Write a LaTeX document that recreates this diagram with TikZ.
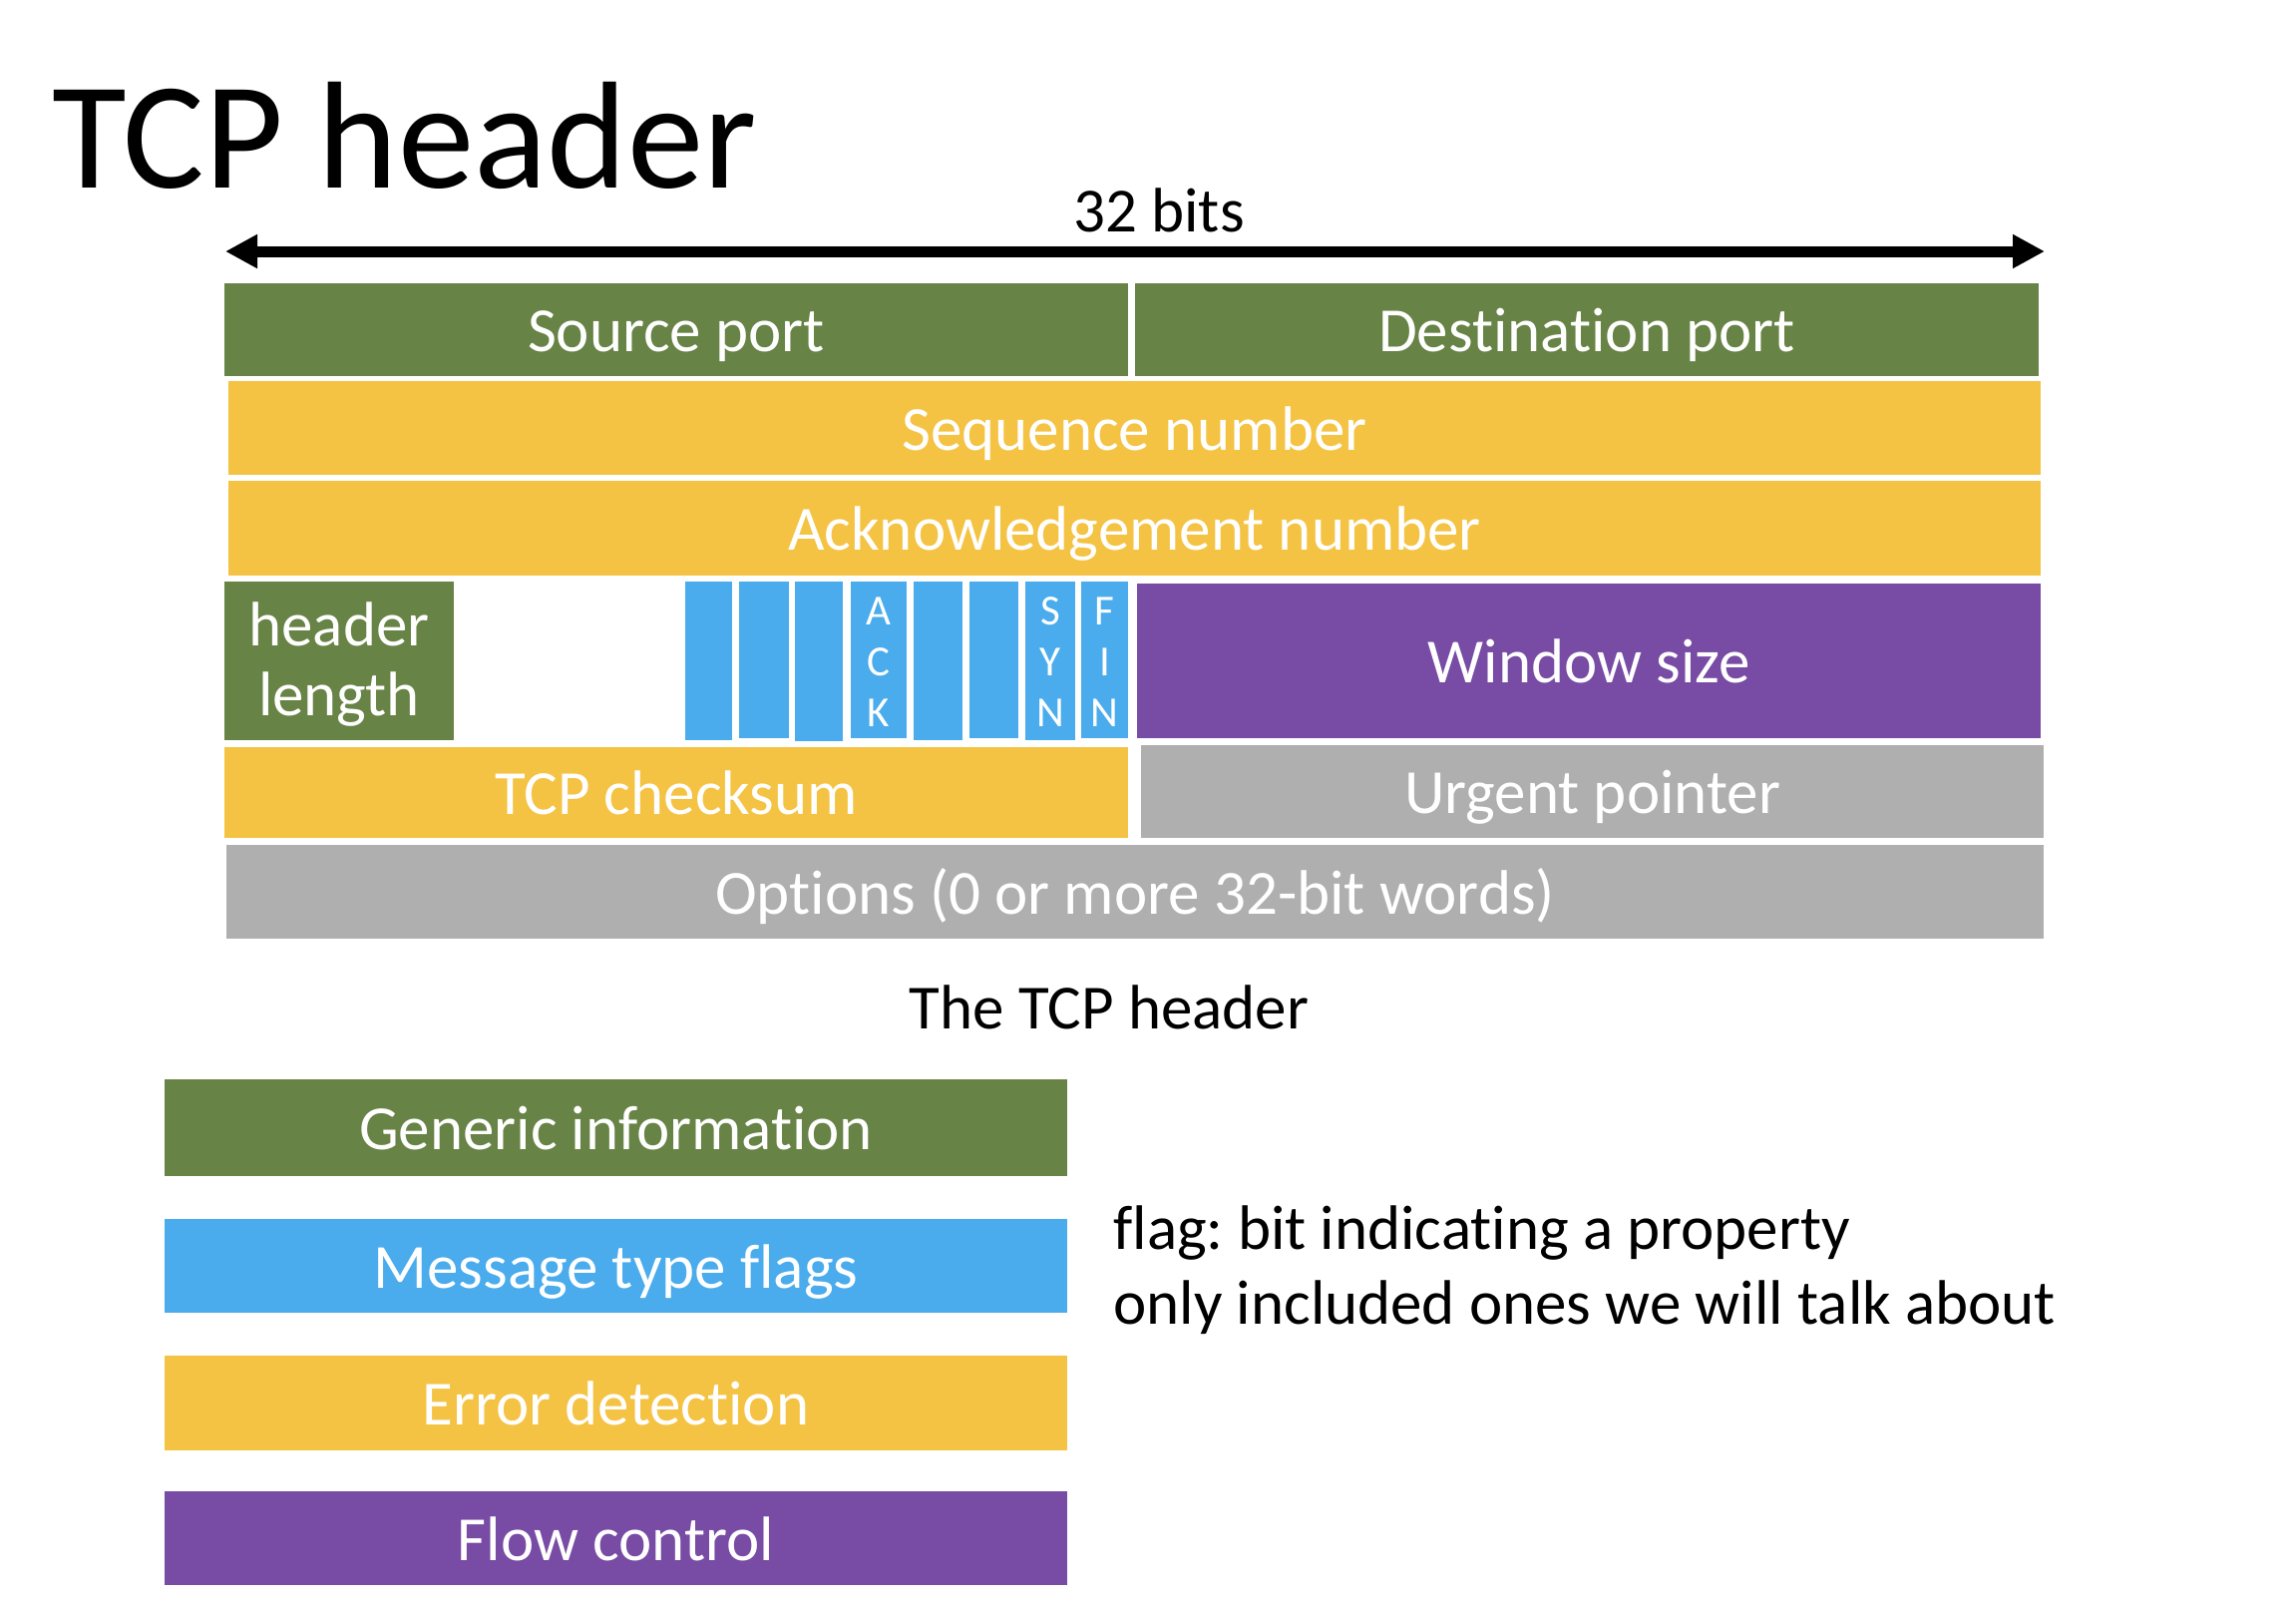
\documentclass[tikz,border=0pt]{standalone}
\usepackage{fontspec}
\setmainfont{Carlito}[Ligatures={NoCommon,NoRare,NoContextual}]
\frenchspacing
\usetikzlibrary{arrows.meta}
\definecolor{cgreen}{RGB}{103,131,69}
\definecolor{cyellow}{RGB}{245,195,67}
\definecolor{cblue}{RGB}{74,172,236}
\definecolor{cpurple}{RGB}{120,75,164}
\definecolor{cgray}{RGB}{175,175,175}
\newcommand{\bodyfont}{\fontsize{31.5}{37.5}\selectfont}
\newcommand{\fieldbox}[7]{%
  \node[fld, fill=#6, minimum width={(#4-#2)*0.5pt}, minimum height={(#5-#3)*0.5pt}]
    (#1) at ({(#2+#4)/2},{(#3+#5)/2}) {#7};}
\begin{document}
\begin{tikzpicture}[x=0.5pt,y=-0.5pt,
  fld/.style={rectangle, draw=none, inner sep=0pt, outer sep=0pt, text=white,
    font=\bodyfont, text height=29.9pt, text depth=7.9pt},
  lbl/.style={inner sep=0pt, font=\bodyfont},
  flagtxt/.style={inner sep=0pt, text=white, font=\fontsize{21.5}{23}\selectfont},
  bitarrow/.style={line width=5.5pt, {Triangle[length=16pt,width=16pt]}-{Triangle[length=16pt,width=16pt]}}]
\useasboundingbox (0,0) rectangle (2302,1608);
\fill[white] (0,0) rectangle (2302,1608);

% title
\node[anchor=base west, inner sep=0pt, font=\fontsize{76.5}{90}\selectfont] (title) at (52,188) {TCP header};

% 32 bits arrow
\coordinate (al) at (226,252);
\coordinate (ar) at (2050,252);
\draw[bitarrow] (al) -- (ar);
\node[lbl, anchor=base] (bits) at (1162,232) {32 bits};

% header fields
\fieldbox{src}{225}{284}{1131}{377}{cgreen}{Source port}
\fieldbox{dst}{1138}{284}{2044}{377}{cgreen}{Destination port}
\fieldbox{seq}{229}{382}{2046}{476}{cyellow}{Sequence number}
\fieldbox{ack}{229}{482}{2046}{577}{cyellow}{Acknowledgement number}
\fieldbox{hlen}{225}{583}{455}{742}{cgreen}{}
\node[lbl, text=white, anchor=base] (hl1) at (340,647) {header};
\node[lbl, text=white, anchor=base] (hl2) at (340,717) {length};

\fieldbox{f1}{687}{583}{734}{742}{cblue}{}
\fieldbox{f2}{741}{583}{791}{740}{cblue}{}
\fieldbox{f3}{797}{583}{845}{743}{cblue}{}
\fieldbox{f4}{853}{583}{909}{740}{cblue}{}
\fieldbox{f5}{916}{583}{965}{742}{cblue}{}
\fieldbox{f6}{972}{583}{1021}{740}{cblue}{}
\fieldbox{f7}{1028}{583}{1078}{742}{cblue}{}
\fieldbox{f8}{1084}{583}{1131}{740}{cblue}{}

\node[flagtxt, anchor=base] (a1) at (f4.center |- 0,626) {A};
\node[flagtxt, anchor=base] (a2) at (f4.center |- 0,677) {C};
\node[flagtxt, anchor=base] (a3) at (f4.center |- 0,728) {K};
\node[flagtxt, anchor=base] (s1) at (f7.center |- 0,626) {S};
\node[flagtxt, anchor=base] (s2) at (f7.center |- 0,677) {Y};
\node[flagtxt, anchor=base] (s3) at (f7.center |- 0,728) {N};
\node[flagtxt, anchor=base] (n1) at (f8.center |- 0,626) {F};
\node[flagtxt, anchor=base] (n2) at (f8.center |- 0,677) {I};
\node[flagtxt, anchor=base] (n3) at (f8.center |- 0,728) {N};

\fieldbox{win}{1140}{585}{2046}{740}{cpurple}{Window size}
\fieldbox{chk}{225}{749}{1131}{840}{cyellow}{TCP checksum}
\fieldbox{urg}{1144}{747}{2049}{840}{cgray}{Urgent pointer}
\fieldbox{opt}{227}{847}{2049}{941}{cgray}{Options (0 or more 32-bit words)}

% caption
\node[lbl, anchor=base] (cap) at (1112,1031) {The TCP header};

% legend
\fieldbox{lgen}{165}{1082}{1070}{1179}{cgreen}{Generic information}
\fieldbox{lmsg}{165}{1222}{1070}{1316}{cblue}{Message type flags}
\fieldbox{lerr}{165}{1359}{1070}{1454}{cyellow}{Error detection}
\fieldbox{lflow}{165}{1495}{1070}{1589}{cpurple}{Flow control}

% note
\node[lbl, anchor=base west] (note1) at (1116,1252) {flag: bit indicating a property};
\node[lbl, anchor=base west] (note2) at (1116,1327) {only included ones we will talk about};
\end{tikzpicture}
\end{document}
